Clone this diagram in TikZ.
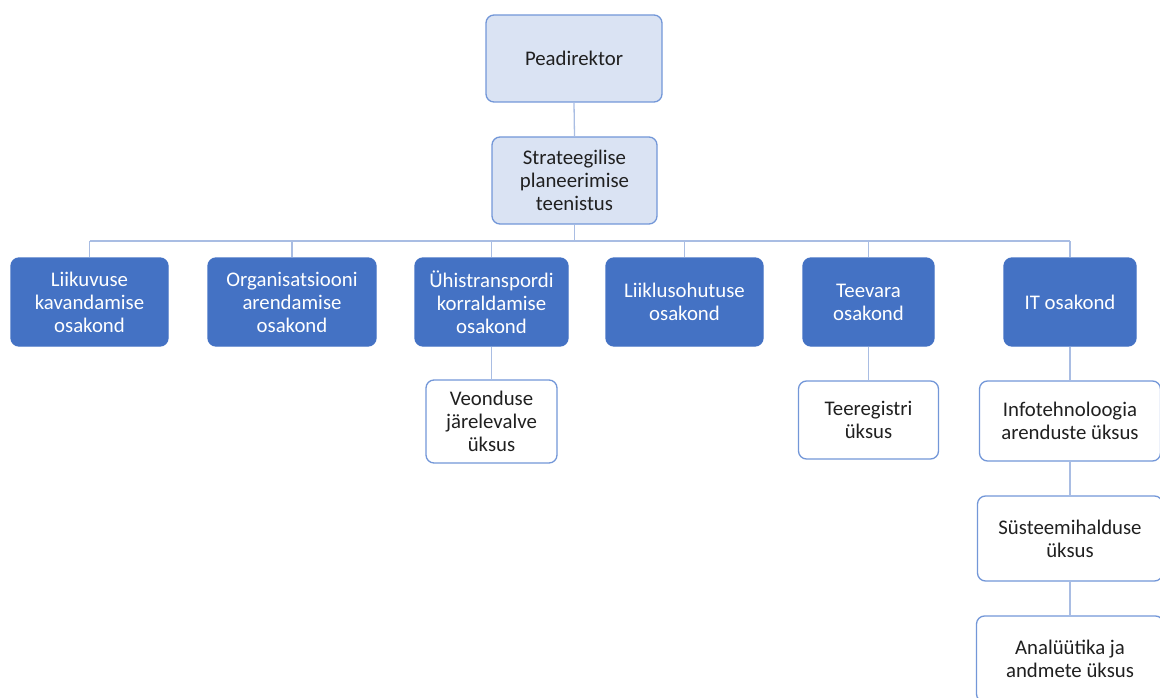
\documentclass[tikz,border=0pt]{standalone}
\usepackage{fontspec}
\setmainfont{Carlito}
\definecolor{lightfill}{HTML}{DAE3F3}
\definecolor{boxline}{HTML}{7397D8}
\definecolor{darkfill}{HTML}{4472C4}
\definecolor{conn}{HTML}{A9BDE3}
\definecolor{txt}{HTML}{202020}
\tikzset{
  base/.style={rounded corners=8pt, inner sep=0pt, align=center, line width=1.3pt,
    font=\fontsize{20.8}{23}\selectfont},
  topbox/.style={base, draw=boxline, fill=lightfill, text=txt},
  deptbox/.style={base, draw=darkfill, fill=darkfill, text=white},
  unitbox/.style={base, draw=boxline, fill=white, text=txt},
  link/.style={draw=conn, line width=1.3pt},
}
\begin{document}
\begin{tikzpicture}[x=1pt,y=-1pt]
\useasboundingbox (0,0) rectangle (1160,698);
\clip (0,0) rectangle (1160,698);
\node[topbox, minimum width=176pt, minimum height=87pt] (P) at (574,58.5) {Peadirektor};
\node[topbox, minimum width=165pt, minimum height=87pt] (S) at (574.5,180.5) {Strateegilise\\planeerimise\\teenistus};
\node[deptbox, minimum width=157pt, minimum height=88pt] (L1) at (89.5,302) {Liikuvuse\\kavandamise\\osakond};
\node[deptbox, minimum width=168pt, minimum height=88pt] (L2) at (292,302) {Organisatsiooni\\arendamise\\osakond};
\node[deptbox, minimum width=153pt, minimum height=88pt] (L3) at (491.5,302) {Ühistranspordi\\korraldamise\\osakond};
\node[deptbox, minimum width=157pt, minimum height=88pt] (L4) at (684.5,302) {Liiklusohutuse\\osakond};
\node[deptbox, minimum width=131pt, minimum height=88pt] (L5) at (868.5,302) {Teevara\\osakond};
\node[deptbox, minimum width=132pt, minimum height=88pt] (L6) at (1070,302) {IT osakond};
\node[unitbox, minimum width=131pt, minimum height=83pt] (U1) at (491.5,421.5) {Veonduse\\järelevalve\\üksus};
\node[unitbox, minimum width=140pt, minimum height=78pt] (U2) at (868.5,420) {Teeregistri\\üksus};
\node[unitbox, minimum width=181pt, minimum height=80pt] (U3) at (1070,421) {Infotehnoloogia\\arenduste üksus};
\node[unitbox, minimum width=185pt, minimum height=85pt] (U4) at (1070,538.5) {Süsteemihalduse\\üksus};
\node[unitbox, minimum width=187pt, minimum height=86pt] (U5) at (1070,659) {Analüütika ja\\andmete üksus};
\coordinate (bus) at (574.5,241);
\draw[link] (P.south) -- (S.north);
\draw[link] (S.south) -- (S.south |- bus);
\draw[link] (L1.north |- bus) -- (L6.north |- bus);
\foreach \n in {L1,L2,L3,L4,L5,L6} {\draw[link] (\n.north) -- (\n.north |- bus);}
\draw[link] (L3.south) -- (L3.south |- U1.north);
\draw[link] (L5.south) -- (L5.south |- U2.north);
\draw[link] (L6.south) -- (U3.north);
\draw[link] (U3.south) -- (U4.north);
\draw[link] (U4.south) -- (U5.north);
\end{tikzpicture}
\end{document}
